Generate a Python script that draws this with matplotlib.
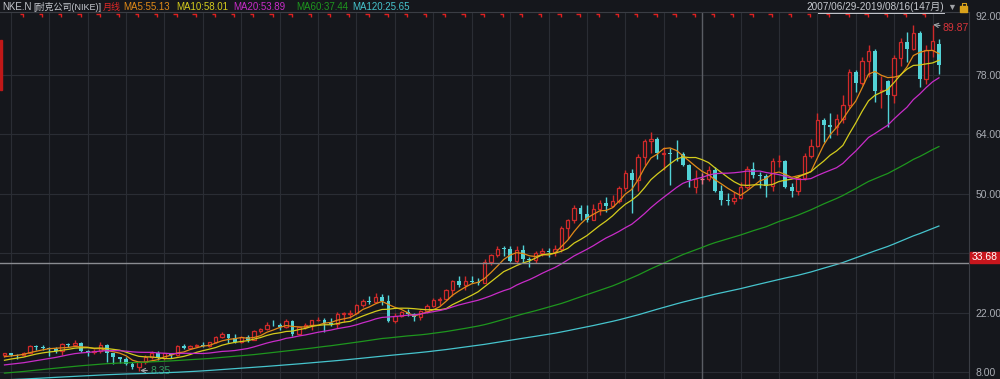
import matplotlib
matplotlib.use("Agg")
import matplotlib.pyplot as plt
from matplotlib import font_manager
from matplotlib.patches import Rectangle
from matplotlib.lines import Line2D
import numpy as np
import pandas as pd

# NKE monthly bars 2007/06 - 2019/08 (forward adjusted)
months = pd.period_range("2007-06", "2019-08", freq="M")

opens = [
    11.90, 12.39, 11.99, 11.96, 12.46, 14.08, 13.98,
    13.65, 13.31, 12.96, 14.65, 14.40, 14.74, 12.84, 12.65, 12.93, 14.41, 12.42, 11.46,
    10.99, 9.89, 9.12, 10.24, 11.46, 12.51, 11.29, 12.38, 12.08, 14.18, 13.61, 14.18,
    14.44, 14.12, 15.01, 16.34, 16.87, 16.07, 15.01, 16.34, 15.54, 17.76, 18.12, 19.09,
    19.00, 18.54, 20.03, 17.01, 18.54, 18.99, 20.25, 20.34, 19.53, 19.26, 21.69, 21.78,
    21.90, 23.74, 24.65, 24.60, 25.56, 24.70, 20.04, 21.27, 22.19, 21.64, 20.86, 22.28,
    23.56, 25.00, 25.19, 27.32, 29.45, 28.57, 29.49, 29.12, 29.08, 33.90, 35.50, 37.10,
    37.00, 34.22, 36.75, 34.69, 34.31, 36.10, 36.47, 36.28, 36.94, 41.92, 43.71, 46.62,
    45.21, 43.93, 46.32, 47.84, 47.08, 48.41, 51.46, 54.89, 53.27, 58.61, 62.42, 62.99,
    59.30, 59.70, 59.40, 59.35, 56.84, 51.60, 53.40, 53.56, 55.58, 50.76, 48.44, 48.25,
    49.02, 51.68, 55.88, 54.42, 54.13, 51.78, 57.64, 57.70, 51.59, 50.71, 53.74, 59.01,
    61.16, 67.45, 66.26, 65.67, 67.65, 71.01, 78.82, 76.05, 81.30, 83.77, 74.18, 76.50,
    73.28, 81.90, 85.70, 84.20, 87.80, 77.10, 83.90, 85.30,
]
highs = [
    12.58, 12.58, 12.16, 12.67, 14.28, 14.37, 14.45,
    13.88, 13.88, 14.83, 14.74, 15.43, 15.00, 13.27, 13.45, 15.09, 14.57, 12.50, 11.64,
    11.55, 10.41, 10.68, 11.99, 12.95, 12.95, 12.51, 12.51, 14.26, 14.53, 14.35, 14.70,
    15.10, 15.10, 16.52, 17.40, 16.96, 17.05, 16.52, 16.78, 17.94, 18.38, 19.89, 20.34,
    19.53, 20.43, 20.16, 18.72, 19.44, 20.34, 21.06, 20.70, 20.70, 22.05, 22.05, 22.50,
    23.92, 25.20, 25.84, 26.57, 26.48, 26.11, 21.91, 22.46, 22.83, 21.91, 22.73, 24.01,
    25.47, 25.74, 27.50, 29.63, 30.74, 30.74, 30.65, 30.19, 34.60, 35.90, 37.80, 37.60,
    37.60, 37.60, 37.88, 35.16, 36.47, 37.22, 37.13, 37.98, 42.49, 43.99, 47.38, 47.38,
    47.46, 47.55, 48.50, 49.27, 49.65, 51.94, 55.66, 55.75, 59.47, 62.90, 64.57, 63.47,
    61.00, 60.80, 62.70, 59.83, 56.94, 55.58, 55.01, 56.55, 56.36, 52.01, 50.28, 50.47,
    52.76, 56.67, 57.55, 55.20, 54.61, 58.52, 59.11, 57.93, 52.66, 54.22, 59.50, 62.92,
    69.10, 67.85, 68.93, 68.83, 73.19, 79.42, 79.12, 82.19, 85.05, 84.07, 77.74, 76.80,
    82.70, 86.80, 88.20, 89.70, 88.40, 85.10, 89.87, 86.50,
]
lows = [
    11.48, 11.82, 10.97, 11.73, 12.41, 13.26, 13.18,
    11.72, 12.59, 12.07, 13.96, 14.22, 12.76, 11.81, 12.33, 12.50, 10.40, 9.83, 10.09,
    9.63, 8.60, 8.35, 9.80, 11.11, 10.76, 10.76, 11.20, 11.73, 13.39, 13.39, 13.83,
    13.85, 13.85, 14.92, 15.90, 14.92, 14.92, 14.83, 15.10, 15.45, 17.23, 17.85, 18.91,
    18.00, 18.36, 16.56, 16.74, 18.18, 17.91, 20.07, 17.46, 18.81, 18.45, 19.80, 20.79,
    21.73, 23.37, 23.92, 24.47, 23.83, 19.90, 19.45, 21.00, 21.18, 20.09, 20.27, 21.91,
    23.40, 23.89, 25.00, 25.93, 28.06, 27.41, 28.98, 28.52, 29.00, 33.20, 35.00, 35.30,
    33.84, 33.46, 33.75, 32.81, 33.75, 35.34, 35.16, 35.34, 36.19, 39.39, 43.15, 43.90,
    43.36, 43.74, 45.08, 45.74, 46.79, 47.84, 50.70, 45.50, 50.60, 56.70, 59.56, 58.32,
    55.60, 52.00, 57.80, 56.45, 51.72, 50.10, 52.30, 53.08, 50.47, 47.29, 47.29, 47.57,
    48.80, 51.10, 53.64, 51.39, 49.24, 50.61, 56.27, 51.39, 49.24, 49.63, 53.25, 58.52,
    61.00, 62.31, 63.20, 63.89, 66.76, 70.22, 74.08, 75.66, 77.54, 71.60, 70.12, 65.77,
    71.40, 80.20, 81.10, 84.00, 75.10, 75.80, 82.20, 78.20,
]
closes = [
    12.39, 11.99, 11.96, 12.46, 14.08, 13.98, 13.65,
    13.31, 12.96, 14.65, 14.40, 14.74, 12.84, 12.65, 12.93, 14.41, 12.42, 11.46, 10.99,
    9.89, 9.12, 10.24, 11.46, 12.51, 11.29, 12.38, 12.08, 14.18, 13.61, 14.18, 14.44,
    14.12, 15.01, 16.34, 16.87, 16.07, 15.01, 16.34, 15.54, 17.76, 18.12, 19.09, 19.00,
    18.54, 20.03, 17.01, 18.54, 18.99, 20.25, 20.34, 19.53, 19.26, 21.69, 21.78, 21.90,
    23.74, 24.65, 24.60, 25.56, 24.70, 20.04, 21.27, 22.19, 21.64, 20.86, 22.28, 23.56,
    25.00, 25.19, 27.32, 29.45, 28.57, 29.49, 29.12, 29.08, 33.90, 35.50, 37.10, 37.00,
    34.22, 36.75, 34.69, 34.31, 36.10, 36.47, 36.28, 36.94, 41.92, 43.71, 46.62, 45.21,
    43.93, 46.32, 47.84, 47.08, 48.41, 51.46, 54.89, 53.27, 58.61, 62.42, 62.99, 59.56,
    59.70, 59.40, 59.35, 56.84, 53.27, 53.40, 53.56, 55.58, 50.76, 48.44, 48.25, 49.02,
    51.68, 55.88, 54.42, 54.13, 51.78, 57.64, 57.70, 51.59, 50.71, 53.74, 59.01, 61.16,
    67.45, 66.26, 65.67, 67.65, 71.01, 78.82, 76.05, 81.30, 83.77, 74.18, 74.37, 73.28,
    81.90, 85.70, 84.20, 87.80, 77.10, 83.90, 86.00, 80.40,
]
# closes 1997/06 - 2007/05, only used to seed MA60 / MA120 at the left edge
pre_closes = [
    5.37, 5.27, 4.90, 4.90, 4.81, 4.35, 3.61,
    4.22, 4.13, 4.22, 4.31, 4.22, 4.50, 4.22, 3.56, 3.47, 4.31, 3.84, 3.84,
    4.28, 4.94, 5.42, 6.27, 5.80, 5.99, 4.66, 5.04, 5.42, 5.23, 4.28, 4.75,
    4.21, 2.58, 3.82, 4.11, 4.11, 3.75, 3.90, 3.95, 3.70, 3.85, 4.21, 5.35,
    5.33, 3.78, 3.97, 4.07, 3.97, 4.07, 4.55, 4.84, 4.94, 4.75, 5.14, 5.43,
    5.89, 5.79, 5.89, 5.20, 5.30, 5.30, 4.71, 4.22, 4.22, 4.61, 4.41, 4.32,
    4.57, 4.47, 5.07, 5.37, 5.57, 5.37, 5.17, 5.47, 6.06, 6.36, 6.66, 6.76,
    7.04, 7.34, 7.85, 7.24, 7.14, 7.65, 7.34, 7.55, 7.95, 8.15, 8.55, 9.15,
    8.86, 8.86, 8.46, 7.84, 8.35, 8.86, 8.56, 8.05, 8.35, 8.56, 8.66, 8.86,
    8.41, 9.03, 8.82, 8.51, 8.41, 8.41, 8.20, 8.41, 9.13, 9.55, 10.27, 10.27,
    10.46, 10.99, 11.20, 11.39, 12.00,
]

ma_periods = [5, 10, 20, 60, 120]
ma_colors = ["#e08a18", "#d4cc1c", "#c82cc8", "#1e961e", "#46c4cd"]
ma_readout = ["MA5:55.13", "MA10:58.01", "MA20:53.89", "MA60:37.44", "MA120:25.65"]
ma_text_x = [123, 176, 233, 296, 352]

# dividend markers along the top (bar index)
flag_idx = [3, 6, 9, 12, 15, 18, 21, 24, 27, 30, 33, 36, 39, 42, 45, 48, 51, 54,
            57, 60, 63, 66, 69, 72, 75, 78, 81, 84, 87, 90, 93, 96, 99, 102, 105,
            108, 111, 114, 117, 120, 123, 126, 129, 132, 135, 138, 141, 144]
cursor_idx = 109
cursor_price = 33.68
yticks = [8, 22, 36, 50, 64, 78, 92]

BG = "#15171c"
GRID = "#2a2d34"
RED = "#d02a2a"
CYAN = "#52d2d6"
PINK = "#e8788a"
TXT = "#c6c9cf"

names = {f.name for f in font_manager.fontManager.ttflist}
narrow = "Liberation Sans Narrow" if "Liberation Sans Narrow" in names else "Liberation Sans"
plt.rcParams["font.family"] = [narrow, "Noto Sans CJK SC", "DejaVu Sans"]

W, H = 1000, 379
fig = plt.figure(figsize=(W / 100, H / 100), dpi=100, facecolor=BG)
ax = fig.add_axes([0, 0, 969 / W, 1 - 12 / H], facecolor=BG)
ax.set_xlim(-0.70, 150.7)
ax.set_ylim(6.35, 92.85)

o = np.array(opens)
h = np.array(highs)
l = np.array(lows)
c = np.array(closes)
x = np.arange(len(c))

# grid
for v in yticks[:-1]:
    ax.axhline(v, color=GRID, lw=0.8, zorder=0)
for i, m in enumerate(months):
    if m.month in (1, 7):
        ax.axvline(i, color=GRID, lw=0.8, zorder=0)
ax.axvline(cursor_idx, color="#5a5d64", lw=1, zorder=0.5)

# candles: red hollow = up, cyan filled = down
up = c >= o
dn = ~up
col = np.where(up, RED, CYAN).astype(object)
col[cursor_idx] = PINK
top = np.maximum(o, c)
bot = np.minimum(o, c)
body = np.maximum(top - bot, 0.12)

ax.vlines(x[dn], l[dn], h[dn], colors=list(col[dn]), lw=1, zorder=2)
ax.bar(x[dn], body[dn], bottom=bot[dn], width=0.62, color=list(col[dn]), lw=0, zorder=3)
ax.vlines(x[up], top[up], h[up], colors=list(col[up]), lw=1, zorder=2)
ax.vlines(x[up], l[up], bot[up], colors=list(col[up]), lw=1, zorder=2)
ax.bar(x[up], body[up], bottom=bot[up], width=0.55, facecolor=BG,
       edgecolor=list(col[up]), lw=0.9, zorder=3)

# moving averages
all_close = pd.Series(pre_closes + closes)
for n, colr in zip(ma_periods, ma_colors):
    ma = all_close.rolling(n).mean().to_numpy()[len(pre_closes):]
    ax.plot(x, ma, color=colr, lw=0.9, zorder=4)

# dividend flags
for i in flag_idx:
    ax.plot([i - 0.65, i - 0.12, i - 0.12], [92.4, 92.4, 91.75], color="#e02020",
            lw=1, zorder=5, solid_capstyle="butt")

# cursor line
ax.axhline(cursor_price, color="#8a8c91", lw=1, zorder=6)

# high / low labels
hi = int(np.argmax(h))
lo = int(np.argmin(l))
ax.annotate(f"{h[hi]:.2f}", xy=(hi + 0.1, h[hi]), xytext=(hi + 1.6, h[hi] - 0.75),
            color="#d8343a", fontsize=7.5, ha="left", va="center",
            arrowprops=dict(arrowstyle="->", color="#a0a2a6", lw=0.8, shrinkA=0, shrinkB=0))
ax.annotate(f"{l[lo]:.2f}", xy=(lo + 0.2, l[lo]), xytext=(lo + 1.75, l[lo]),
            color="#2f9a5c", fontsize=7.5, ha="left", va="center",
            arrowprops=dict(arrowstyle="->", color="#a0a2a6", lw=0.8, shrinkA=0, shrinkB=0))

# right price axis
ax.yaxis.tick_right()
ax.set_yticks(yticks)
ax.set_yticklabels(["" if v == 36 else f"{v:.2f}" for v in yticks])
ax.tick_params(axis="y", length=0, pad=4.5, labelcolor="#a9acb3", labelsize=7.5)
ax.set_xticks([])
for s in ["left", "bottom"]:
    ax.spines[s].set_visible(False)
for s in ["top", "right"]:
    ax.spines[s].set_color("#3a3d44")
    ax.spines[s].set_linewidth(0.8)

# cursor price tag
fig.patches.append(Rectangle((970 / W, 1 - 263 / H), 30 / W, 11 / H,
                             transform=fig.transFigure, color="#c8161d"))
fig.text(985 / W, 1 - 257.5 / H, f"{cursor_price:.2f}", color="white",
         ha="center", va="center", fontsize=7.5)

# header
ty = 1 - 7.5 / H
fig.text(2 / W, ty, "NKE.N", color=TXT, fontsize=7, va="center")
fig.text(33 / W, ty, "[耐克公司(NIKE)]", color=TXT, fontsize=6.5, va="center")
fig.text(103 / W, ty, "月线", color="#e02828", fontsize=6.5, va="center")
for t, tx, colr in zip(ma_readout, ma_text_x, ma_colors):
    fig.text(tx / W, ty, t, color=colr, fontsize=7, va="center")

fig.text(944 / W, ty, "2007/06/29-2019/08/16(147月)", color=TXT, fontsize=7.2,
         ha="right", va="center")
fig.add_artist(Line2D([818 / W, 944 / W], [1 - 12.5 / H] * 2, color=TXT, lw=0.7))
fig.text(952 / W, ty, "▼", color="#a0a2a6", ha="center", va="center", fontsize=6.5)
fig.patches.append(Rectangle((960 / W, 1 - 12 / H), 7 / W, 6 / H,
                             transform=fig.transFigure, color="#d9a21b"))
fig.add_artist(Line2D([962 / W, 962 / W, 966 / W, 966 / W],
                      [1 - 6 / H, 1 - 3 / H, 1 - 3 / H, 1 - 5 / H], color="#d9a21b", lw=0.8))

# scroll marker on the left edge
fig.patches.append(Rectangle((0, 1 - 90 / H), 2 / W, 50 / H,
                             transform=fig.transFigure, color="#c01818"))

fig.savefig("out.png", dpi=100, facecolor=BG)
